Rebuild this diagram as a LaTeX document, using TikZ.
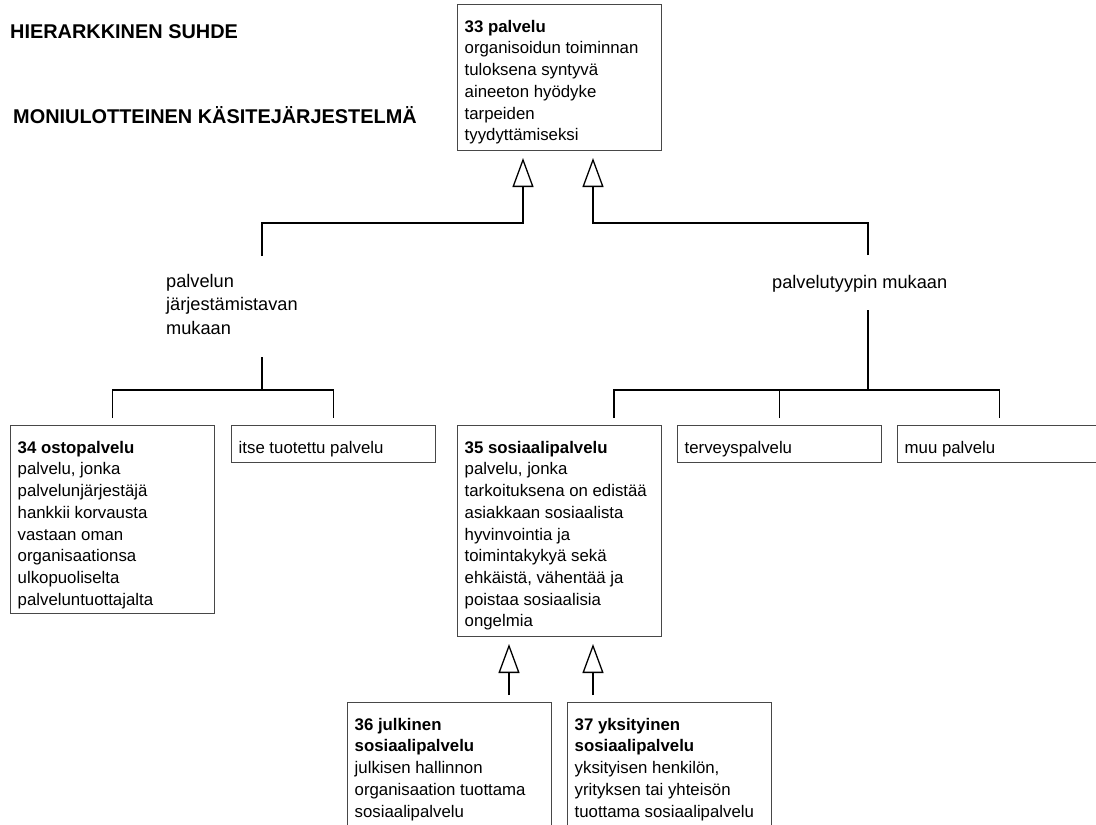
\documentclass[tikz,border=0pt]{standalone}
\usepackage{fontspec}
\setmainfont{Liberation Sans}
\usetikzlibrary{arrows.meta}
\newcommand\bxtext[2]{\parbox[t][#1][t]{190pt}{\raggedright\rule{0pt}{27.5pt}#2}}
\tikzset{
  box/.style={draw=black!72, line width=1.4pt, anchor=north west, inner xsep=7pt, inner ysep=0pt,
    font=\fontsize{16.8pt}{21.7pt}\selectfont},
  lbl/.style={inner sep=0pt, anchor=north west, font=\fontsize{18.2pt}{23.5pt}\selectfont},
  ttl/.style={inner sep=0pt, anchor=base west, font=\fontsize{19.9pt}{23pt}\selectfont\bfseries},
  conn/.style={line width=1.5pt, black},
  gen/.style={conn, -{Triangle[open, length=29pt, width=21pt, line width=1.3pt]}}
}
\begin{document}
\begin{tikzpicture}[x=1pt,y=-1pt]
\clip (0,0) rectangle (1096,825);
\fill[white] (0,0) rectangle (1096,825);
% titles
\node[ttl] (h1) at (10,38) {HIERARKKINEN SUHDE};
\node[ttl] (h2) at (13,123) {MONIULOTTEINEN KÄSITEJÄRJESTELMÄ};
% boxes
\node[box] (b33) at (457,4) {\bxtext{146pt}{\textbf{33 palvelu}\\organisoidun toiminnan\\tuloksena syntyvä\\aineeton hyödyke\\tarpeiden\\tyydyttämiseksi}};
\node[box] (b34) at (10,425) {\bxtext{188pt}{\textbf{34 ostopalvelu}\\palvelu, jonka\\palvelunjärjestäjä\\hankkii korvausta\\vastaan oman\\organisaationsa\\ulkopuoliselta\\palveluntuottajalta}};
\node[box] (bitse) at (231,425) {\bxtext{37pt}{itse tuotettu palvelu}};
\node[box] (b35) at (457,425) {\bxtext{211pt}{\textbf{35 sosiaalipalvelu}\\palvelu, jonka\\tarkoituksena on edistää\\asiakkaan sosiaalista\\hyvinvointia ja\\toimintakykyä sekä\\ehkäistä, vähentää ja\\poistaa sosiaalisia\\ongelmia}};
\node[box] (bterv) at (677,425) {\bxtext{37pt}{terveyspalvelu}};
\node[box] (bmuu) at (897,425) {\bxtext{37pt}{muu palvelu}};
\node[box] (b36) at (347,702) {\bxtext{128pt}{\textbf{36 julkinen}\\\textbf{sosiaalipalvelu}\\julkisen hallinnon\\organisaation tuottama\\sosiaalipalvelu}};
\node[box] (b37) at (567,702) {\bxtext{128pt}{\textbf{37 yksityinen}\\\textbf{sosiaalipalvelu}\\yksityisen henkilön,\\yrityksen tai yhteisön\\tuottama sosiaalipalvelu}};
% labels
\node[lbl] (l1) at (166,267) {\parbox[t]{200pt}{\raggedright\rule{0pt}{20pt}palvelun\\järjestämistavan\\mukaan}};
\node[lbl] (l2) at (772,268) {\parbox[t]{200pt}{\raggedright\rule{0pt}{20pt}palvelutyypin mukaan}};
% coordinates
\coordinate (lt) at (262,256);
\coordinate (rt) at (868,255);
\coordinate (ja) at (0,223);
\coordinate (ua) at (523,158);
\coordinate (ub) at (593,158);
\coordinate (lb) at (262,357);
\coordinate (jb) at (0,390);
\coordinate (rb) at (868,310);
\coordinate (s35) at (614,418);
\coordinate (n34) at ([yshift=7pt]b34.north);
\coordinate (nit) at ([yshift=7pt]bitse.north);
\coordinate (nte) at ([yshift=7pt]bterv.north);
\coordinate (nmu) at ([yshift=7pt]bmuu.north);
\coordinate (n36) at ([yshift=7pt]b36.north);
\coordinate (n37) at ([yshift=7pt]b37.north);
\coordinate (da) at (509,644);
\coordinate (db) at (593,644);
% upper connectors
\draw[gen] (lt) -- (lt |- ja) -| (ua);
\draw[gen] (rt) -- (rt |- ja) -| (ub);
% lower left
\draw[conn] (lb) -- (lb |- jb);
\draw[conn] (n34) -- (n34 |- jb) -- (nit |- jb) -- (nit);
% lower right
\draw[conn] (rb) -- (rb |- jb);
\draw[conn] (s35) -- (s35 |- jb) -- (nmu |- jb) -- (nmu);
\draw[conn] (nte) -- (nte |- jb);
% bottom arrows
\draw[gen] (n36 -| da) -- (da);
\draw[gen] (n37 -| db) -- (db);
\end{tikzpicture}
\end{document}
